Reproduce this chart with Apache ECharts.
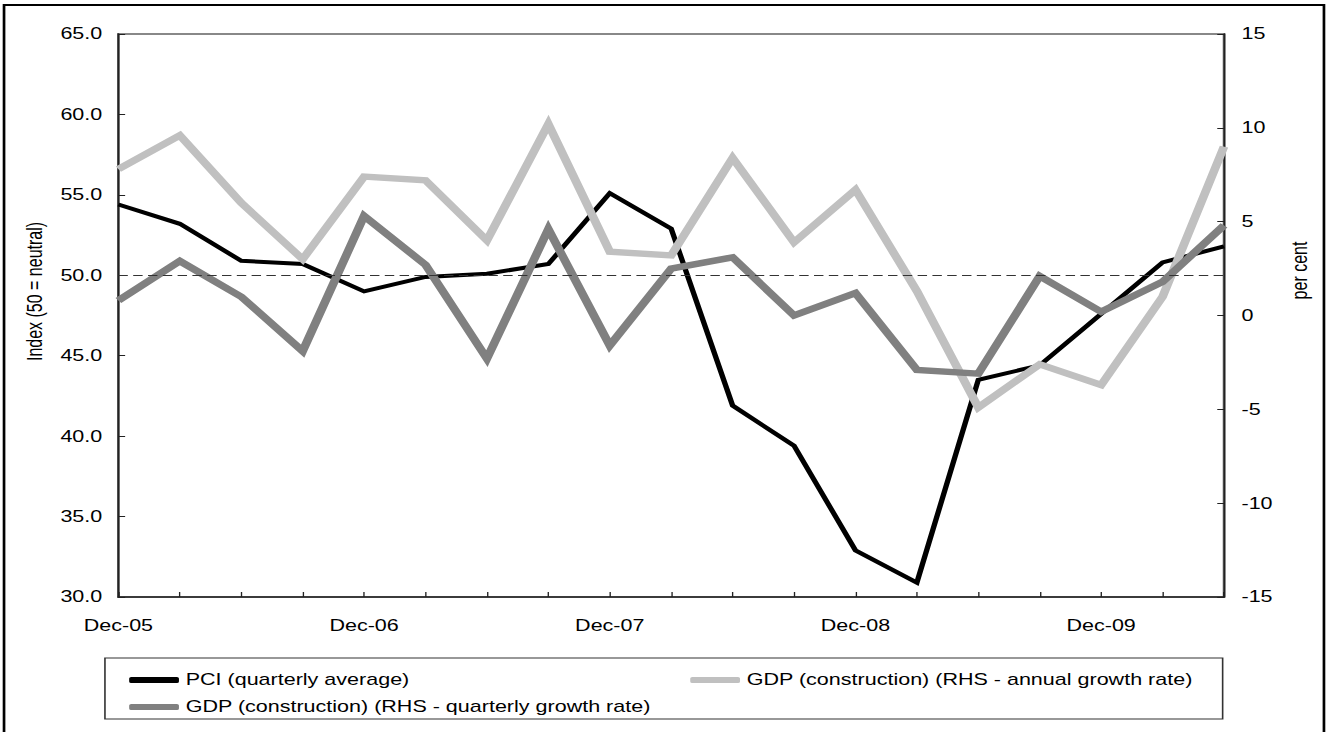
<!DOCTYPE html>
<html>
<head>
<meta charset="utf-8">
<script src="https://cdn.jsdelivr.net/npm/echarts@6/dist/echarts.min.js"></script>
<style>
  html, body { margin: 0; padding: 0; background: #fff; overflow: hidden; }
  /* chart is laid out at its native width and stretched to fill the page */
  #chart { width: 987px; height: 732px; transform: scaleX(1.34549); transform-origin: 0 0; }
</style>
</head>
<body>
<div id="chart"></div>
<script>
// Quarters shown on the horizontal axis
const quarters = ['Dec-05', 'Mar-06', 'Jun-06', 'Sep-06', 'Dec-06', 'Mar-07', 'Jun-07', 'Sep-07',
  'Dec-07', 'Mar-08', 'Jun-08', 'Sep-08', 'Dec-08', 'Mar-09', 'Jun-09', 'Sep-09', 'Dec-09',
  'Mar-10', 'Jun-10'];

// Performance of Construction Index, quarterly average (left axis)
const pciQuarterly = [54.4, 53.2, 50.9, 50.7, 49.0, 49.9, 50.1, 50.7, 55.1, 52.9, 41.9, 39.4,
  32.9, 30.9, 43.5, 44.4, 47.6, 50.8, 51.8];

// Construction GDP, annual growth rate, per cent (right axis)
const gdpAnnual = [7.8, 9.6, 6.0, 3.0, 7.4, 7.2, 4.0, 10.2, 3.4, 3.2, 8.4, 3.9, 6.7, 1.3,
  -4.9, -2.6, -3.7, 1.0, 9.0];

// Construction GDP, quarterly growth rate, per cent (right axis)
const gdpQuarterly = [0.8, 2.9, 1.0, -1.9, 5.3, 2.7, -2.3, 4.6, -1.6, 2.5, 3.1, 0.0, 1.2,
  -2.9, -3.1, 2.1, 0.2, 1.8, 4.8];

const seriesNames = ['PCI (quarterly average)',
  'GDP (construction) (RHS - annual growth rate)',
  'GDP (construction) (RHS - quarterly growth rate)'];

const neutralLevel = 50;

const font = 'Liberation Sans, Arial, sans-serif';
const txt = { fontFamily: font, fontSize: 16, color: '#000' };

const chart = echarts.init(document.getElementById('chart'), null, { renderer: 'svg' });

chart.setOption({
  animation: false,
  backgroundColor: '#fff',
  textStyle: { fontFamily: font },
  grid: {
    left: 88, right: 77.3, top: 34, bottom: 135,
    show: true, borderColor: '#888', borderWidth: 2, backgroundColor: 'transparent'
  },
  graphic: [
    { type: 'rect', shape: { x: 3, y: 5, width: 981, height: 800 },
      style: { fill: 'none', stroke: '#000', lineWidth: 2 }, silent: true },
    { type: 'rect', shape: { x: 78, y: 658, width: 830.7, height: 61 },
      style: { fill: 'none', stroke: '#333', lineWidth: 1.2 }, silent: true }
  ],
  legend: [
    {
      data: [seriesNames[0], seriesNames[2]],
      orient: 'vertical', left: 91, top: 667, itemGap: 11,
      itemWidth: 37, itemHeight: 6, icon: 'roundRect',
      textStyle: txt, selectedMode: false
    },
    {
      data: [seriesNames[1]],
      orient: 'vertical', left: 508, top: 667,
      itemWidth: 37, itemHeight: 6, icon: 'roundRect',
      textStyle: txt, selectedMode: false
    }
  ],
  xAxis: {
    type: 'category',
    data: quarters,
    boundaryGap: false,
    axisLine: { onZero: false, lineStyle: { color: '#222', width: 1.5 } },
    axisTick: { show: true, inside: true, length: 5, interval: 0, lineStyle: { color: '#222', width: 1 } },
    axisLabel: { interval: 3, margin: 21, ...txt },
    splitLine: { show: false }
  },
  yAxis: [
    {
      type: 'value', min: 30, max: 65, interval: 5, position: 'left',
      name: 'Index (50 = neutral)', nameLocation: 'middle', nameRotate: 90, nameGap: 51,
      nameTextStyle: { ...txt, padding: [0, 0, 0, 48] },
      axisLine: { show: true, lineStyle: { color: '#222', width: 1.5 } },
      axisTick: { show: true, inside: true, length: 5, lineStyle: { color: '#222', width: 1 } },
      axisLabel: { margin: 12, formatter: v => v.toFixed(1), ...txt },
      splitLine: { show: false }
    },
    {
      type: 'value', min: -15, max: 15, interval: 5, position: 'right',
      name: 'per cent', nameLocation: 'middle', nameRotate: 90, nameGap: 48,
      nameTextStyle: { ...txt, padding: [0, 0, 0, 90] },
      axisLine: { show: true, lineStyle: { color: '#222', width: 1.5 } },
      axisTick: { show: true, inside: true, length: 5, lineStyle: { color: '#222', width: 1 } },
      axisLabel: { margin: 13, ...txt },
      splitLine: { show: false }
    }
  ],
  series: [
    {
      name: seriesNames[0], type: 'line', yAxisIndex: 0, data: pciQuarterly,
      showSymbol: false, color: '#000', z: 2,
      lineStyle: { color: '#000', width: 4, join: 'miter' },
      markLine: {
        silent: true, symbol: 'none', label: { show: false },
        lineStyle: { color: '#333', width: 1, type: [7, 4] },
        data: [{ yAxis: neutralLevel }]
      }
    },
    {
      name: seriesNames[1], type: 'line', yAxisIndex: 1, data: gdpAnnual,
      showSymbol: false, color: '#c0c0c0', z: 3,
      lineStyle: { color: '#c0c0c0', width: 6.5, join: 'miter' }
    },
    {
      name: seriesNames[2], type: 'line', yAxisIndex: 1, data: gdpQuarterly,
      showSymbol: false, color: '#808080', z: 4,
      lineStyle: { color: '#808080', width: 6.5, join: 'miter' }
    }
  ]
});
</script>
</body>
</html>
